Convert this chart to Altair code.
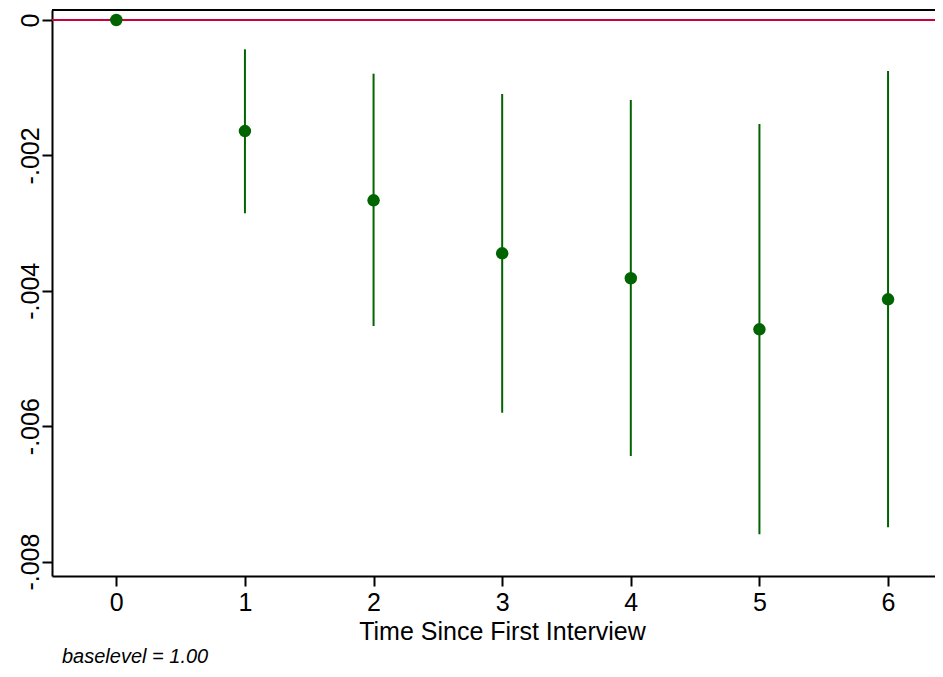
import altair as alt
import pandas as pd

# Data
periods = [0, 1, 2, 3, 4, 5, 6]
coef = [0.0, -0.00164, -0.002663, -0.003446, -0.003815, -0.004569, -0.004126]
ci_lo = [0.0, -0.002855, -0.00452, -0.0058, -0.00644, -0.007597, -0.007494]
ci_hi = [0.0, -0.000433, -0.000793, -0.001093, -0.001182, -0.001536, -0.000753]
x_ticks = [0, 1, 2, 3, 4, 5, 6]
y_ticks = [0, -0.002, -0.004, -0.006, -0.008]
x_title = "Time Since First Interview"
note = "baselevel = 1.00"

df = pd.DataFrame({"t": periods, "coef": coef, "lo": ci_lo, "hi": ci_hi})
ci_df = df[df["t"] > 0]
zero_df = pd.DataFrame({"coef": [0.0]})
one_df = pd.DataFrame({"note": [note]})

W, H = 883, 566
FONT = "Arial, Liberation Sans"
GREEN = "#006400"
RED = "#cc0039"

xscale = alt.Scale(domain=[-0.5, 6.365], nice=False, zero=False)
yscale = alt.Scale(domain=[-0.0082127, 0.0001477], nice=False, zero=False)

xaxis = alt.Axis(
    values=x_ticks, format="d", title=x_title, grid=False,
    domainColor="black", domainWidth=2, tickColor="black", tickWidth=2, tickSize=10,
    labelFont=FONT, labelFontSize=25, labelColor="black", labelBaseline="alphabetic",
    labelPadding=24, titleFont=FONT, titleFontSize=25, titleFontWeight="normal",
    titleColor="black", titleBaseline="alphabetic", titleY=63, titleX=450,
)
yaxis = alt.Axis(
    values=y_ticks, title=None, grid=False,
    labelExpr="datum.value == 0 ? '0' : '-.' + substring(format(abs(datum.value), '.3f'), 2)",
    domainColor="black", domainWidth=2, tickColor="black", tickWidth=2, tickSize=10,
    labelFont=FONT, labelFontSize=25, labelColor="black", labelAngle=270,
    labelAlign="center", labelBaseline="alphabetic", labelPadding=4,
    labelOverlap=False, labelBound=False,
)

zero_line = alt.Chart(zero_df).mark_rule(color=RED, strokeWidth=2).encode(
    y=alt.Y("coef:Q", scale=yscale, axis=yaxis)
)

ci = alt.Chart(ci_df).mark_rule(color=GREEN, strokeWidth=2).encode(
    x=alt.X("t:Q", scale=xscale, axis=xaxis),
    y=alt.Y("lo:Q", scale=yscale, axis=yaxis),
    y2="hi:Q",
)

pts = alt.Chart(df).mark_point(filled=True, shape="circle", size=155, color=GREEN, opacity=1).encode(
    x=alt.X("t:Q", scale=xscale, axis=xaxis),
    y=alt.Y("coef:Q", scale=yscale, axis=yaxis),
)

top_border = alt.Chart(one_df).mark_rule(color="black", strokeWidth=2).encode(
    x=alt.value(0), x2=alt.value(W), y=alt.value(0)
)

note_text = alt.Chart(one_df).mark_text(
    align="left", baseline="alphabetic", font=FONT, fontSize=20, fontStyle="italic", color="black"
).encode(text="note:N", x=alt.value(10), y=alt.value(653))

chart = alt.layer(zero_line, ci, pts, top_border, note_text).properties(
    width=W, height=H,
    autosize=alt.AutoSizeParams(type="none"),
    padding={"left": 44, "top": 2, "right": 0, "bottom": 93},
    background="white",
).configure_view(strokeWidth=0)

chart.save("out.html", embed_options={"renderer": "svg", "actions": False})
